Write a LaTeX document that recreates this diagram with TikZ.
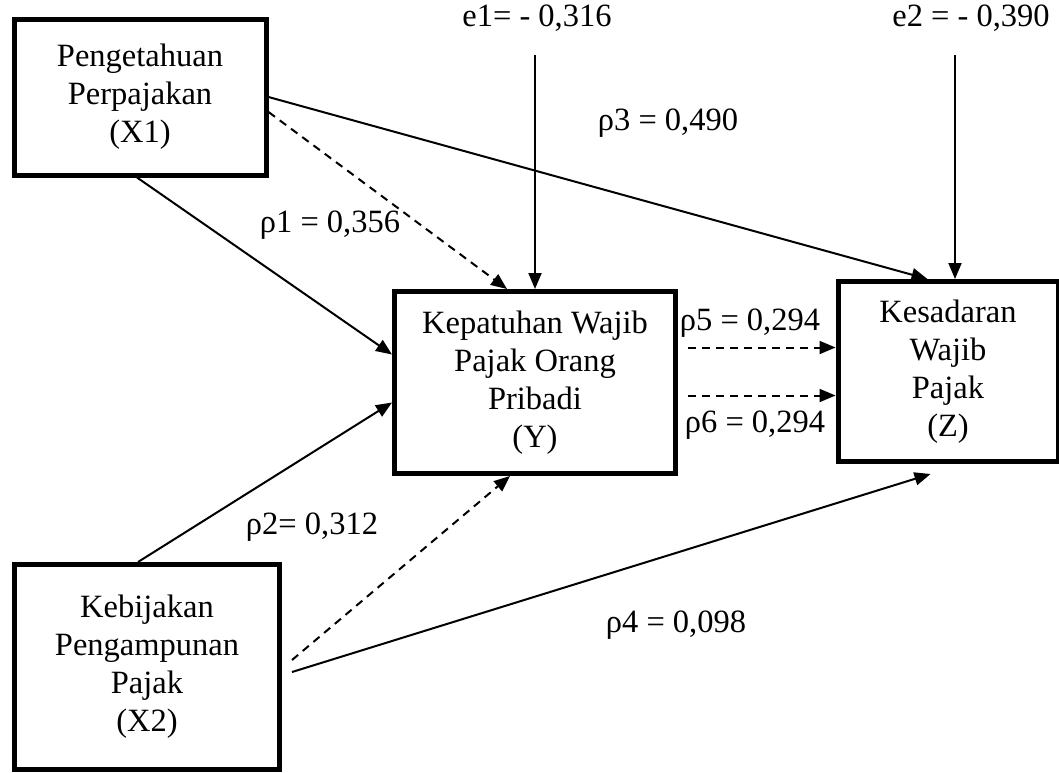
\documentclass[tikz,border=0pt]{standalone}
\usepackage{fontspec}
\setmainfont{Liberation Serif}
\usetikzlibrary{arrows.meta,calc,positioning}

\begin{document}
\begin{tikzpicture}[x=1pt, y=-1pt, >={Triangle[length=16pt,width=13pt]},
  font=\fontsize{32.5}{38}\selectfont,
  varbox/.style={draw, line width=5pt, align=center, inner sep=0pt},
  path/.style={line width=2pt},
  dashpath/.style={path, dash pattern=on 8pt off 6pt}]
  \useasboundingbox (0,0) rectangle (1059,772);

  % variables
  \node[varbox, minimum width=252pt, minimum height=156pt] (X1) at (140,97)
    {Pengetahuan\\Perpajakan\\(X1)};
  \node[varbox, minimum width=265pt, minimum height=205pt] (X2) at (147,667)
    {Kebijakan\\Pengampunan\\Pajak\\(X2)};
  \node[varbox, minimum width=281pt, minimum height=182pt] (Y) at (535,382.5)
    {Kepatuhan Wajib\\Pajak Orang\\Pribadi~\\(Y)};
  \node[varbox, minimum width=220pt, minimum height=180pt] (Z) at (948,371.5)
    {Kesadaran\\Wajib\\Pajak\\(Z)};

  % error terms
  \node (e1) at (537,18) {e1= - 0,316};
  \node (e2) at (971,18) {e2 = - 0,390};
  \coordinate (e1s) at (535,55);
  \coordinate (e2s) at (955,55);
  \draw[path, ->] (e1s) -- (e1s |- Y.north);
  \draw[path, ->] (e2s) -- (e2s |- Z.north);

  % paths from X1
  \draw[path, ->] (X1.east) -- ([xshift=92pt]Z.north west);
  \draw[dashpath, ->] ([yshift=-15pt]X1.east) -- ([xshift=-28pt]Y.north);
  \draw[path, ->] ([xshift=-3pt]X1.south) -- ([yshift=28pt]Y.west);

  % paths from X2
  \draw[path, ->] ([xshift=-9pt]X2.north) -- ([yshift=-20pt]Y.west);
  \draw[dashpath, ->] ([xshift=10pt,yshift=7pt]X2.east) -- ([xshift=-25pt]Y.south);
  \draw[path, ->] ([xshift=10pt,yshift=-5pt]X2.east) -- ([xshift=95pt,yshift=-10pt]Z.south west);

  % paths from Y to Z
  \coordinate (y5) at ([xshift=10pt,yshift=35pt]Y.east);
  \coordinate (y6) at ([xshift=10pt,yshift=-13pt]Y.east);
  \draw[dashpath, ->] (y5) -- (y5 -| Z.west);
  \draw[dashpath, ->] (y6) -- (y6 -| Z.west);

  % coefficients
  \node (r1) at (330,225) {ρ1 = 0,356};
  \node (r2) at (312,527) {ρ2= 0,312};
  \node (r3) at (668,123) {ρ3 = 0,490};
  \node (r4) at (676,625) {ρ4 = 0,098};
  \node (r5) at (750,323) {ρ5 = 0,294};
  \node (r6) at (755,425) {ρ6 = 0,294};
\end{tikzpicture}
\end{document}
